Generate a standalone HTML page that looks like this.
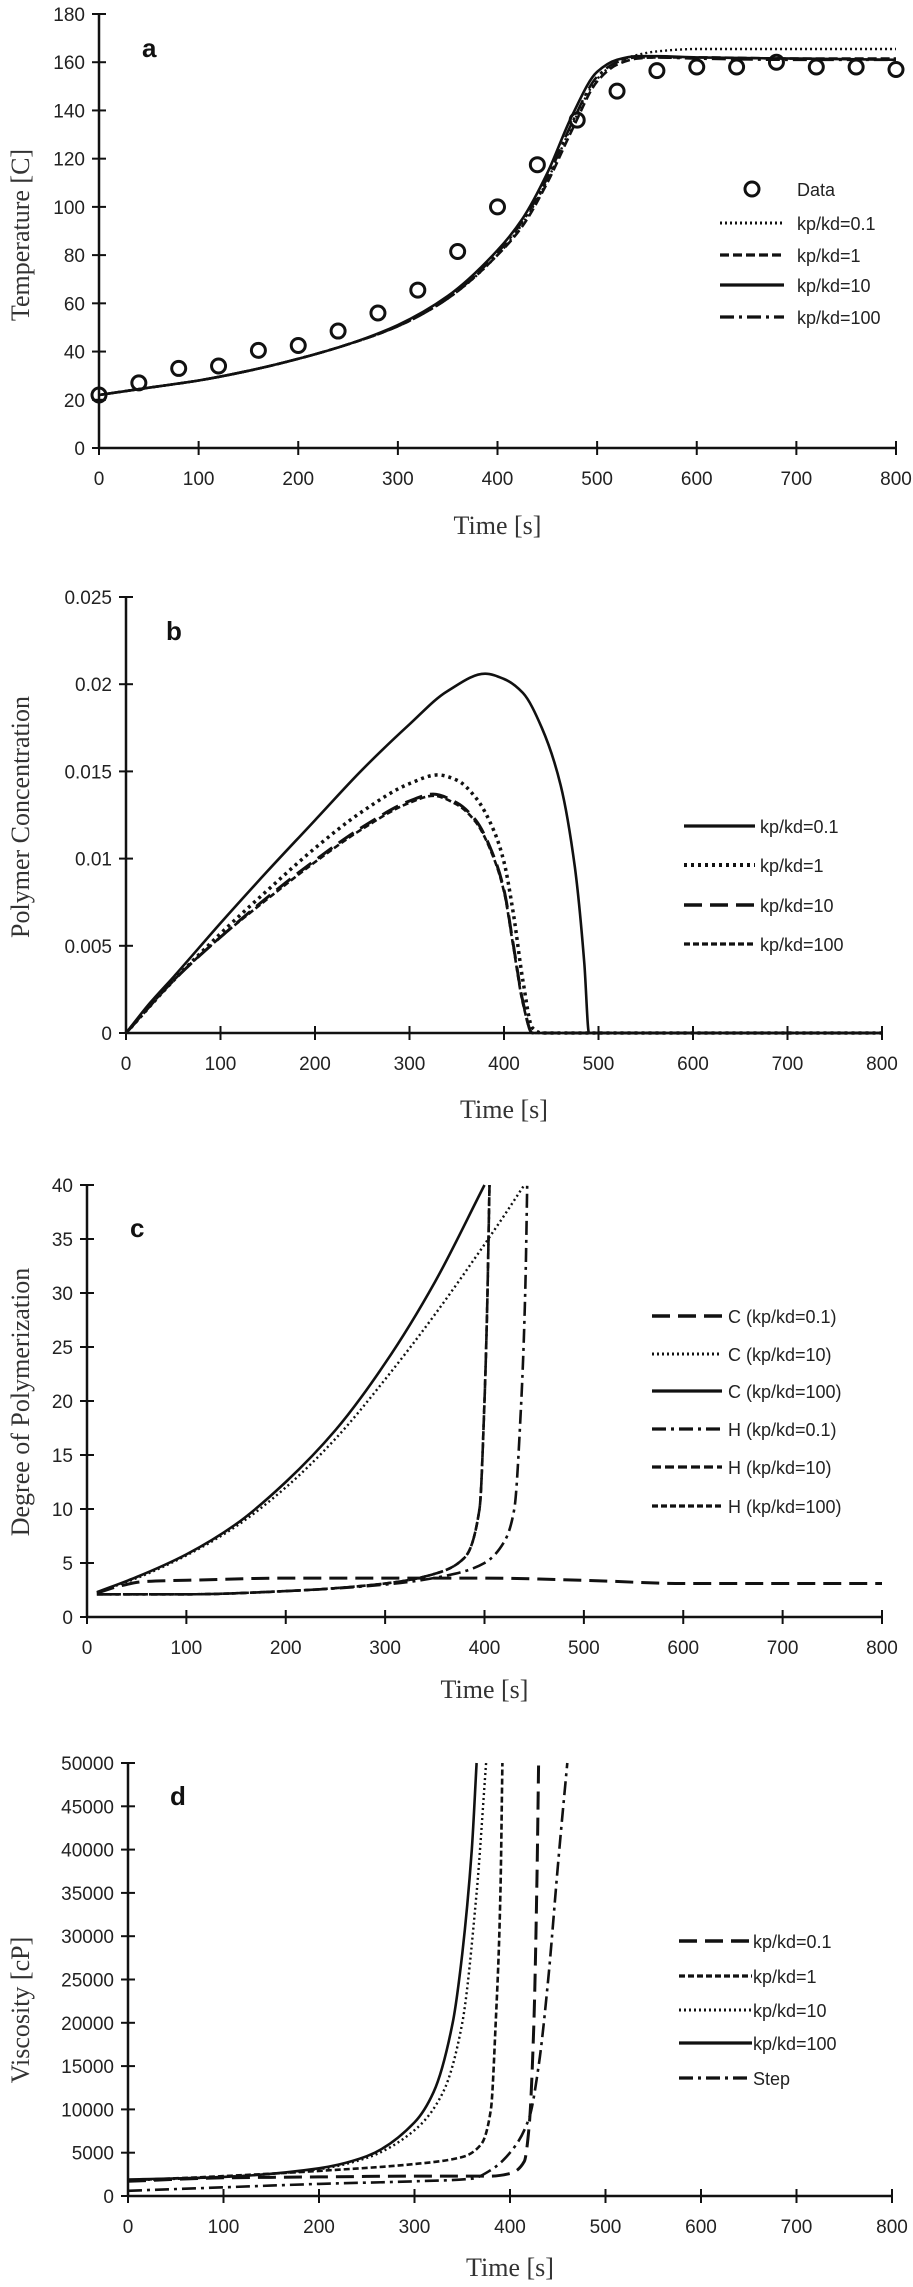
<!DOCTYPE html>
<html><head><meta charset="utf-8"><style>
html,body{margin:0;padding:0;background:#fff;}
svg{display:block;}
.tick{font-family:"Liberation Sans",sans-serif;font-size:19px;fill:#222;}
.leg{font-family:"Liberation Sans",sans-serif;font-size:18px;fill:#222;}
.ttl{font-family:"Liberation Serif",serif;font-size:26px;fill:#333;}
.plab{font-family:"Liberation Sans",sans-serif;font-size:26px;font-weight:bold;fill:#111;}
</style></head><body>
<svg id="fig" width="913" height="2287" viewBox="0 0 913 2287" xmlns="http://www.w3.org/2000/svg"></svg>
<script>
// ---- Panel a: Temperature ----
const aDataT=[0,40,80,120,160,200,240,280,320,360,400,440,480,520,560,600,640,680,720,760,800];
const aDataY=[22,27,33,34,40.5,42.5,48.5,56,65.5,81.5,100,117.5,136,148,156.5,158,158,160,158,158,157];
const aT01=[0,50,100,150,200,250,300,350,400,425,450,475,500,520,540,560,600,700,800];
const aY01=[22,25,28,32,37,43,50.5,62,80,93,111,134,153,160,163,164.5,165.5,165.5,165.5];
const aT1=[0,50,100,150,200,250,300,350,400,425,450,475,500,520,540,560,600,700,800];
const aY1=[22,25,28,32,37,43,50.5,62,80,92,110,132,152,159,161.5,162,162,161.5,161.5];
const aT10=[0,50,100,150,200,250,300,350,400,425,450,475,500,520,540,560,600,700,800];
const aY10=[22,25,28,32,37,43,51,63,82,95,114,138,156,161,162.5,162.5,162,161.5,161];
const aT100=[0,50,100,150,200,250,300,350,400,425,450,475,500,520,540,560,600,700,800];
const aY100=[22,25,28,32,37,43,50.5,62,81,94,112,135,154,160,162,162,161.5,161,161];
const aXTicks=[0,100,200,300,400,500,600,700,800];
const aYTicks=[0,20,40,60,80,100,120,140,160,180];
const aLegend=["Data","kp/kd=0.1","kp/kd=1","kp/kd=10","kp/kd=100"];
// ---- Panel b: Polymer concentration ----
const bT01=[0,25,50,100,150,200,250,300,340,380,400,420,440,460,475,485,490,800];
const bY01=[0,0.0017,0.0032,0.0063,0.0093,0.0122,0.0151,0.0177,0.0196,0.0206,0.0203,0.0195,0.0175,0.0142,0.0095,0.004,0,0];
const bT1=[0,50,100,150,200,250,300,330,350,370,390,400,410,420,430,440,800];
const bY1=[0,0.003,0.0057,0.0082,0.0106,0.0127,0.0143,0.0148,0.0145,0.0135,0.0115,0.0098,0.0068,0.003,0.0003,0,0];
const bT10=[0,50,100,150,200,250,300,325,350,370,390,400,410,420,430,800];
const bY10=[0,0.003,0.0055,0.0078,0.0099,0.0118,0.0133,0.0137,0.0132,0.0122,0.01,0.0082,0.005,0.0018,0,0];
const bT100=[0,50,100,150,200,250,300,325,350,370,390,400,410,420,430,800];
const bY100=[0,0.003,0.0055,0.0077,0.0098,0.0117,0.0132,0.0136,0.0131,0.0121,0.0099,0.0081,0.0049,0.0017,0,0];
const bXTicks=[0,100,200,300,400,500,600,700,800];
const bYTicks=[0,0.005,0.01,0.015,0.02,0.025];
const bYLabels=["0","0.005","0.01","0.015","0.02","0.025"];
const bLegend=["kp/kd=0.1","kp/kd=1","kp/kd=10","kp/kd=100"];
// ---- Panel c: Degree of polymerization ----
const cTC01=[10,30,60,100,200,300,400,500,600,700,800];
const cYC01=[2.2,2.8,3.3,3.4,3.6,3.6,3.6,3.4,3.1,3.1,3.1];
const cTC10=[10,50,100,150,200,250,300,350,400,420,440];
const cYC10=[2.3,3.6,5.7,8.4,12,16.5,22,28,34.5,37.2,40];
const cTC100=[10,50,100,150,200,250,300,350,400];
const cYC100=[2.3,3.7,5.8,8.6,12.5,17.3,23.5,31,40];
const cTH01=[10,100,200,300,370,400,420,430,437,441,443];
const cYH01=[2.1,2.1,2.4,3,4,5,7,10,20,30,40];
const cTH10=[10,100,200,300,350,380,395,400,403,405];
const cYH10=[2.1,2.1,2.4,3.1,4,5.5,10,20,30,40];
const cTH100=[10,100,200,300,350,380,395,400,403,405];
const cYH100=[2.1,2.1,2.4,3.1,4,5.5,10,20,30,40];
const cXTicks=[0,100,200,300,400,500,600,700,800];
const cYTicks=[0,5,10,15,20,25,30,35,40];
const cLegend=["C (kp/kd=0.1)","C (kp/kd=10)","C (kp/kd=100)","H (kp/kd=0.1)","H (kp/kd=10)","H (kp/kd=100)"];
// ---- Panel d: Viscosity ----
const dT01=[0,100,200,300,380,400,415,420,425,428,430];
const dY01=[1700,2100,2200,2300,2300,2600,4000,8000,20000,35000,50000];
const dT1=[0,100,200,300,350,370,380,385,390,392];
const dY1=[1800,2300,2900,3700,4500,6000,10000,20000,35000,50000];
const dT10=[0,100,200,250,300,330,350,365,375];
const dY10=[1800,2200,3100,4400,7600,12000,20000,35000,50000];
const dT100=[0,100,200,250,300,320,340,350,360,365];
const dY100=[1900,2200,3200,4600,8500,12000,20000,28000,40000,50000];
const dTStep=[0,100,200,300,360,380,400,420,430,440,450,460];
const dYStep=[600,1000,1400,1700,2000,3000,5000,9000,15000,25000,38000,50000];
const dXTicks=[0,100,200,300,400,500,600,700,800];
const dYTicks=[0,5000,10000,15000,20000,25000,30000,35000,40000,45000,50000];
const dLegend=["kp/kd=0.1","kp/kd=1","kp/kd=10","kp/kd=100","Step"];

const NS="http://www.w3.org/2000/svg";
const fig=document.getElementById('fig');
function mk(tag,attrs,parent){const e=document.createElementNS(NS,tag);for(const k in attrs)e.setAttribute(k,attrs[k]);(parent||fig).appendChild(e);return e;}
const STY={
 solid:{dash:"",w:2.6},
 dotted:{dash:"2,3",w:2.4},
 dotfat:{dash:"3,4",w:3.5},
 dashed:{dash:"9,4",w:2.6},
 longdash:{dash:"18,8",w:3},
 shortdash:{dash:"6,3",w:2.6},
 dashdot:{dash:"14,5,3,5",w:2.6}
};
function smoothPath(P){
 const n=P.length;if(n<3)return P.map((p,i)=>(i?'L':'M')+p[0].toFixed(1)+','+p[1].toFixed(1)).join(' ');
 const dx=[],m=[],t=[];
 for(let i=0;i<n-1;i++){dx[i]=P[i+1][0]-P[i][0];m[i]=(P[i+1][1]-P[i][1])/dx[i];}
 t[0]=m[0];t[n-1]=m[n-2];
 for(let i=1;i<n-1;i++){
  if(m[i-1]*m[i]<=0)t[i]=0;
  else{const w1=2*dx[i]+dx[i-1],w2=dx[i]+2*dx[i-1];t[i]=(w1+w2)/(w1/m[i-1]+w2/m[i]);}
 }
 let d='M'+P[0][0].toFixed(1)+','+P[0][1].toFixed(1);
 for(let i=0;i<n-1;i++){
  const h=dx[i]/3;
  d+=' C'+(P[i][0]+h).toFixed(1)+','+(P[i][1]+t[i]*h).toFixed(1)+' '+(P[i+1][0]-h).toFixed(1)+','+(P[i+1][1]-t[i+1]*h).toFixed(1)+' '+P[i+1][0].toFixed(1)+','+P[i+1][1].toFixed(1);
 }
 return d;
}
function makePanel(p){
 const g=mk('g',{});
 
 
 const sx=v=>p.x0+(v-p.xmin)/(p.xmax-p.xmin)*(p.x1-p.x0);
 const sy=v=>p.y0-(v-p.ymin)/(p.ymax-p.ymin)*(p.y0-p.y1);
 const ax=mk('g',{},g);
 
 
 mk('line',{x1:p.x0,y1:p.y0,x2:p.x1,y2:p.y0,stroke:'#111','stroke-width':2.5},ax);
 mk('line',{x1:p.x0,y1:p.y0,x2:p.x0,y2:p.y1,stroke:'#111','stroke-width':2.5},ax);
 p.xt.forEach(v=>{const x=sx(v);
  mk('line',{x1:x,y1:p.y0-7,x2:x,y2:p.y0+7,stroke:'#111','stroke-width':2},ax);
  const t=mk('text',{x:x,y:p.y0+37,'text-anchor':'middle',class:'tick'},ax);t.textContent=v;
  
  });
 p.yt.forEach((v,i)=>{const y=sy(v);
  mk('line',{x1:p.x0-7,y1:y,x2:p.x0+7,y2:y,stroke:'#111','stroke-width':2},ax);
  const t=mk('text',{x:p.x0-14,y:y+7,'text-anchor':'end',class:'tick'},ax);t.textContent=p.yl?p.yl[i]:v;
  
  });
 const xt=mk('text',{x:(p.x0+p.x1)/2,y:p.xty,'text-anchor':'middle',class:'ttl'},g);xt.textContent='Time [s]';
 
 
 const yt=mk('text',{x:0,y:0,'text-anchor':'middle',class:'ttl',transform:`translate(29,${p.yty}) rotate(-90)`},g);yt.textContent=p.ytitle;
 
 
 const pl=mk('text',{x:p.lab[0],y:p.lab[1],class:'plab'},g);pl.textContent=p.lab[2];
 
 
 p.series.forEach((s,i)=>{
  const ly=p.leg.rows[i];
  if(s.marker){
   s.xs.forEach((v,j)=>{const c=mk('circle',{cx:sx(v),cy:sy(s.ys[j]),r:7,fill:'none',stroke:'#111','stroke-width':3},g);
    
    });
   mk('circle',{cx:(p.leg.x0+p.leg.x1)/2,cy:ly,r:7,fill:'none',stroke:'#111','stroke-width':3},g);
  } else {
   const st=STY[s.style];
   const pts=s.xs.map((v,j)=>[sx(v),sy(s.ys[j])]);
   const path=mk('path',{d:smoothPath(pts),fill:'none',stroke:'#111','stroke-width':st.w,'stroke-dasharray':st.dash,'stroke-linejoin':'round'},g);
   
   
   mk('line',{x1:p.leg.x0,y1:ly,x2:p.leg.x1,y2:ly,stroke:'#111','stroke-width':st.w+0.6,'stroke-dasharray':st.dash},g);
  }
  const lt=mk('text',{x:p.leg.tx,y:ly+7,class:'leg'},g);lt.textContent=p.legend[i];
  
  
 });
}
makePanel({name:'panel-a-temperature',x0:99,x1:896,y0:448,y1:14,xmin:0,xmax:800,ymin:0,ymax:180,xt:aXTicks,yt:aYTicks,
 xty:534,yty:235,ytitle:'Temperature [C]',lab:[142,57,'a'],legend:aLegend,
 leg:{x0:720,x1:784,tx:797,rows:[189,223,255,285,317]},
 series:[{marker:true,xs:aDataT,ys:aDataY},{style:'dotted',xs:aT01,ys:aY01},{style:'dashed',xs:aT1,ys:aY1},{style:'solid',xs:aT10,ys:aY10},{style:'dashdot',xs:aT100,ys:aY100}]});
makePanel({name:'panel-b-polymer-concentration',x0:126,x1:882,y0:1033,y1:597,xmin:0,xmax:800,ymin:0,ymax:0.025,xt:bXTicks,yt:bYTicks,yl:bYLabels,
 xty:1118,yty:817,ytitle:'Polymer Concentration',lab:[166,640,'b'],legend:bLegend,
 leg:{x0:684,x1:755,tx:760,rows:[826,865,905,944]},
 series:[{style:'solid',xs:bT01,ys:bY01},{style:'dotfat',xs:bT1,ys:bY1},{style:'longdash',xs:bT10,ys:bY10},{style:'shortdash',xs:bT100,ys:bY100}]});
makePanel({name:'panel-c-degree-of-polymerization',x0:87,x1:882,y0:1617,y1:1185,xmin:0,xmax:800,ymin:0,ymax:40,xt:cXTicks,yt:cYTicks,
 xty:1698,yty:1402,ytitle:'Degree of Polymerization',lab:[130,1237,'c'],legend:cLegend,
 leg:{x0:652,x1:722,tx:728,rows:[1316,1354,1391,1429,1467,1506]},
 series:[{style:'longdash',xs:cTC01,ys:cYC01},{style:'dotted',xs:cTC10,ys:cYC10},{style:'solid',xs:cTC100,ys:cYC100},{style:'dashdot',xs:cTH01,ys:cYH01},{style:'dashed',xs:cTH10,ys:cYH10},{style:'shortdash',xs:cTH100,ys:cYH100}]});
makePanel({name:'panel-d-viscosity',x0:128,x1:892,y0:2196,y1:1763,xmin:0,xmax:800,ymin:0,ymax:50000,xt:dXTicks,yt:dYTicks,
 xty:2276,yty:2010,ytitle:'Viscosity [cP]',lab:[170,1805,'d'],legend:dLegend,
 leg:{x0:679,x1:752,tx:753,rows:[1941,1976,2010,2043,2078]},
 series:[{style:'longdash',xs:dT01,ys:dY01},{style:'shortdash',xs:dT1,ys:dY1},{style:'dotted',xs:dT10,ys:dY10},{style:'solid',xs:dT100,ys:dY100},{style:'dashdot',xs:dTStep,ys:dYStep}]});
</script>
</body></html>
